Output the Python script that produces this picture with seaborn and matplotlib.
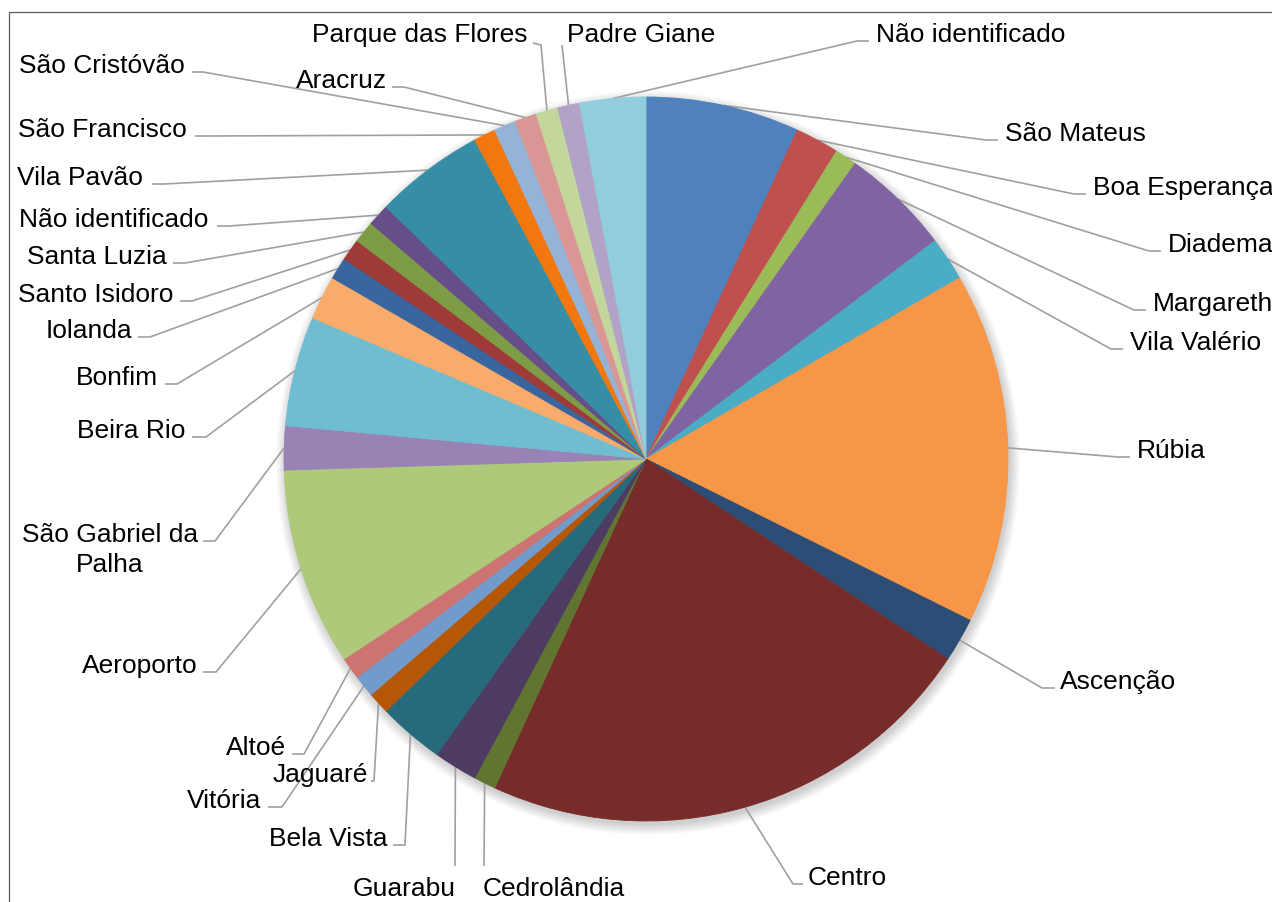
import numpy as np
import matplotlib
matplotlib.use("Agg")
import matplotlib.pyplot as plt
import seaborn as sns
from matplotlib.patches import Circle, Rectangle

# ---------------- data ----------------
bairros = ["São Mateus", "Boa Esperança", "Diadema", "Margareth", "Vila Valério",
           "Rúbia", "Ascenção", "Centro", "Cedrolândia", "Guarabu", "Bela Vista",
           "Jaguaré", "Vitória", "Altoé", "Aeroporto", "São Gabriel da\nPalha",
           "Beira Rio", "Bonfim", "Iolanda", "Santo Isidoro", "Santa Luzia",
           "Não identificado", "Vila Pavão", "São Francisco", "São Cristóvão",
           "Aracruz", "Parque das Flores", "Padre Giane", "Não identificado"]
contagens = [7, 2, 1, 5, 2, 16, 2, 23, 1, 2, 3, 1, 1, 1, 9, 2, 5, 2, 1, 1, 1, 1,
             5, 1, 1, 1, 1, 1, 3]
cores_hex = ["#4F81BD", "#C0504D", "#9BBB59", "#8064A2", "#4BACC6", "#F79646",
             "#2C4D75", "#772C2A", "#5F7530", "#4D3B62", "#276A7C", "#B65708",
             "#729ACA", "#CD7371", "#AFC97A", "#9983B5", "#6FBDD1", "#F9AB6B",
             "#3A66A0", "#9E3A38", "#7E9C45", "#664E88", "#358EA6", "#F2770E",
             "#95B3D7", "#D99694", "#C3D69B", "#B3A2C7", "#92CDDC"]

# ---------------- layout (pixel coords, y downwards) ----------------
W, H = 1272, 903
CX, CY, R = 646, 460, 362
# text x, text baseline y, ha, stub end (x, y), bend (x, y)
layout = [
    (1005, 141, "left", (998, 141), (986, 141)),
    (1093, 195, "left", (1086, 195), (1074, 195)),
    (1168, 252, "left", (1161, 252), (1149, 252)),
    (1153, 311, "left", (1146, 311), (1134, 311)),
    (1130, 350, "left", (1123, 350), (1111, 350)),
    (1137, 458, "left", (1130, 458), (1118, 458)),
    (1060, 689, "left", (1055, 689), (1042, 689)),
    (808, 885, "left", (803, 885), (793, 885)),
    (483, 896, "left", (484, 867), (484, 867)),
    (456, 896, "right", (455, 867), (455, 867)),
    (387, 846, "right", (393, 846), (405, 846)),
    (368, 782, "right", (371, 782), (374, 782)),
    (261, 808, "right", (268, 808), (282, 808)),
    (286, 755, "right", (292, 755), (304, 755)),
    (198, 673, "right", (203, 673), (216, 673)),
    (110, 542, "center", (203, 542), (215, 542)),
    (185, 438, "right", (192, 438), (206, 438)),
    (158, 385, "right", (165, 385), (177, 385)),
    (132, 338, "right", (138, 338), (150, 338)),
    (173, 302, "right", (180, 302), (192, 302)),
    (167, 264, "right", (173, 264), (185, 264)),
    (208, 227, "right", (217, 227), (229, 227)),
    (143, 185, "right", (152, 185), (164, 185)),
    (187, 137, "right", (195, 137), (207, 137)),
    (185, 73, "right", (192, 73), (203, 73)),
    (387, 88, "right", (392, 88), (404, 88)),
    (527, 42, "right", (533, 44), (541, 46)),
    (567, 42, "left", (562, 46), (562, 46)),
    (876, 42, "left", (869, 42), (857, 42)),
]

def fy(y):
    return H - y

sns.set_theme(style="white")
plt.rcParams["font.family"] = ["Liberation Sans", "DejaVu Sans"]

palette = sns.color_palette(cores_hex)

fig = plt.figure(figsize=(W / 100, H / 100), dpi=100)
fig.patch.set_facecolor("white")
ax = fig.add_axes([0, 0, 1, 1])

# soft shadow
for k in range(12):
    ax.add_patch(Circle((CX + 2, fy(CY) - 4), R + k * 0.9, facecolor="black",
                        edgecolor="none", alpha=0.016, zorder=0))

wedges, _ = ax.pie(contagens, colors=palette, startangle=90, counterclock=False,
                   center=(CX, fy(CY)), radius=R,
                   wedgeprops=dict(linewidth=0.6))
for w in wedges:
    w.set_edgecolor(w.get_facecolor())
    w.set_zorder(2)

ax.set_xlim(0, W)
ax.set_ylim(0, H)
ax.set_aspect("equal")
ax.axis("off")

line_col = "#A0A0A0"
for w, name, lay in zip(wedges, bairros, layout):
    tx, ty, ha, stub, bend = lay
    mid = np.deg2rad((w.theta1 + w.theta2) / 2)
    ex = CX + R * np.cos(mid)
    ey = fy(CY) + R * np.sin(mid)
    xs = [ex, bend[0], stub[0]]
    ys = [ey, fy(bend[1]), fy(stub[1])]
    ax.plot(xs, ys, color=line_col, lw=1.2, zorder=1, solid_capstyle="butt")
    for i, ln in enumerate(name.split("\n")):
        ax.text(tx, fy(ty + i * 30), ln, ha=ha, va="baseline", fontsize=19,
                color="black", zorder=5)

# chart border
ax.add_patch(Rectangle((9, -20), W + 20, fy(13) + 20, fill=False,
                       edgecolor="#595959", lw=0.9, zorder=6, clip_on=False))

fig.savefig("out.png", dpi=100, facecolor="white")
